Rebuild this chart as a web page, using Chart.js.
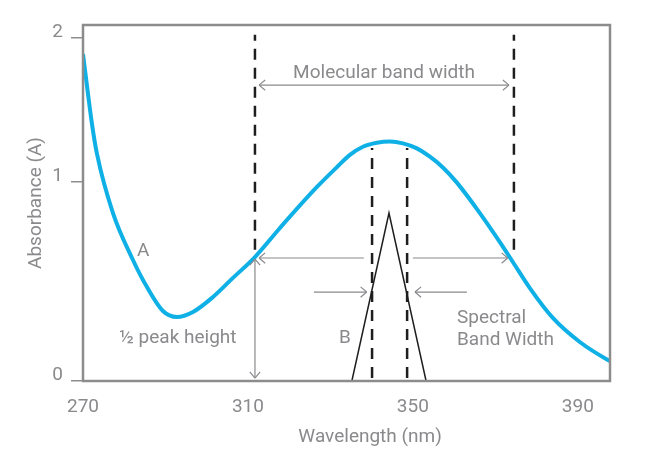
<!DOCTYPE html>
<html><head><meta charset="utf-8">
<script src="https://cdn.jsdelivr.net/npm/chart.js@4/dist/chart.umd.min.js"></script>
<style>html,body{margin:0;padding:0;background:#fff}</style>
</head><body>
<canvas id="c" width="650" height="456"></canvas>
<script>
// Curve A: absorbance spectrum
const curveWavelength = [270.00, 270.97, 272.18, 273.39, 277.27, 282.12, 284.55, 289.39, 292.79, 296.67, 301.52, 306.36, 311.70, 317.76, 326.73, 331.58, 334.73, 337.88, 341.27, 344.42, 347.58, 350.97, 354.12, 357.27, 360.67, 366.24, 371.09, 374.24, 378.36, 383.94, 390.48, 397.27, 397.76];
const curveAbsorbance = [1.643, 1.482, 1.291, 1.141, 0.844, 0.608, 0.508, 0.352, 0.322, 0.347, 0.422, 0.518, 0.623, 0.769, 0.975, 1.075, 1.136, 1.177, 1.197, 1.203, 1.194, 1.169, 1.127, 1.073, 0.997, 0.844, 0.698, 0.598, 0.467, 0.317, 0.196, 0.106, 0.101];
// Curve B: instrument band (triangle)
const bandWavelength = [335.2, 344.2, 353.2];
const bandAbsorbance = [0, 0.844, 0];
// Dashed guide lines
const molecularEdges = [311.7, 374.5];
const molecularRange = [0.66, 1.74];
const spectralEdges = [340.1, 348.6];
const spectralRange = [0.015, 1.171];
// Ticks
const xTickValues = [270, 310, 350, 390];
const yTickValues = [0, 1, 1.724];
const yTickLabels = ['0', '1', '2'];
// Arrows: [x1, y1, x2, y2, headAtStart, headAtEnd]
const arrows = [
  [312.7, 1.487, 373.3, 1.487, true, true],
  [338.1, 0.618, 312.7, 0.618, false, true],
  [350.0, 0.618, 373.0, 0.618, false, true],
  [326.0, 0.447, 338.8, 0.447, false, true],
  [363.1, 0.447, 350.5, 0.447, false, true],
  [311.7, 0.613, 311.7, 0.015, true, true]
];
// Labels
const labelTexts = ['Molecular band width', 'A', '½ peak height', 'B', 'Spectral', 'Band Width'];
const labelX = [343.0, 284.6, 293.0, 333.5, 360.7, 360.7];
const labelY = [1.545, 0.653, 0.216, 0.216, 0.317, 0.206];
const labelAlign = ['center', 'center', 'center', 'center', 'left', 'left'];

const GRAY = '#8a8a8d';
const FONT = 'Roboto';
const FS = 19;

const dashed = (xv, range) => ({
  data: range.map(v => ({x: xv, y: v})),
  borderColor: '#1e1e1e', borderWidth: 2.5, borderDash: [11, 8],
  pointRadius: 0, fill: false, tension: 0
});

const annot = {
  id: 'annot',
  afterDatasetsDraw(chart) {
    const {ctx, scales: {x, y}, chartArea: a} = chart;
    ctx.save();
    ctx.strokeStyle = GRAY; ctx.lineWidth = 1.2;
    const head = (px, py, dx, dy) => {
      const len = Math.hypot(dx, dy), ux = dx / len, uy = dy / len, L = 8, ang = 0.7;
      ctx.beginPath();
      for (const s of [1, -1]) {
        const c = Math.cos(ang), sn = Math.sin(ang) * s;
        const bx = -(ux * c - uy * sn), by = -(uy * c + ux * sn);
        ctx.moveTo(px + bx * L, py + by * L); ctx.lineTo(px, py);
      }
      ctx.stroke();
    };
    arrows.forEach(([x1, y1, x2, y2, h1, h2]) => {
      const X1 = x.getPixelForValue(x1), Y1 = y.getPixelForValue(y1);
      const X2 = x.getPixelForValue(x2), Y2 = y.getPixelForValue(y2);
      ctx.beginPath(); ctx.moveTo(X1, Y1); ctx.lineTo(X2, Y2); ctx.stroke();
      if (h2) head(X2, Y2, X2 - X1, Y2 - Y1);
      if (h1) head(X1, Y1, X1 - X2, Y1 - Y2);
    });
    ctx.fillStyle = GRAY; ctx.font = FS + 'px ' + FONT; ctx.textBaseline = 'middle';
    labelTexts.forEach((t, i) => {
      ctx.textAlign = labelAlign[i];
      ctx.fillText(t, x.getPixelForValue(labelX[i]), y.getPixelForValue(labelY[i]));
    });
    ctx.strokeStyle = '#8c8c8c'; ctx.lineWidth = 2.5;
    ctx.strokeRect(a.left, a.top, a.right - a.left, a.bottom - a.top);
    ctx.restore();
  }
};

new Chart(document.getElementById('c'), {
  type: 'line',
  data: {
    datasets: [
      {data: curveWavelength.map((w, i) => ({x: w, y: curveAbsorbance[i]})),
       borderColor: '#0fb0e6', borderWidth: 4, pointRadius: 0, fill: false,
       cubicInterpolationMode: 'monotone'},
      {data: bandWavelength.map((w, i) => ({x: w, y: bandAbsorbance[i]})),
       borderColor: '#1e1e1e', borderWidth: 1.5, pointRadius: 0, fill: false, tension: 0},
      dashed(molecularEdges[0], molecularRange),
      dashed(molecularEdges[1], molecularRange),
      dashed(spectralEdges[0], spectralRange),
      dashed(spectralEdges[1], spectralRange)
    ]
  },
  options: {
    responsive: false, animation: false,
    layout: {padding: {top: 25, right: 40, left: 0, bottom: 0}},
    plugins: {legend: {display: false}, tooltip: {enabled: false}},
    scales: {
      x: {
        type: 'linear', min: 270, max: 397.8,
        afterBuildTicks: s => { s.ticks = xTickValues.map(v => ({value: v})); },
        afterFit: s => { s.height = 75; },
        ticks: {color: GRAY, font: {family: FONT, size: FS}, padding: 15, callback: v => String(v)},
        grid: {display: false, drawTicks: false},
        border: {display: false},
        title: {display: true, text: '          Wavelength (nm)', color: GRAY, font: {family: FONT, size: FS}, padding: {top: 0, bottom: 7}}
      },
      y: {
        type: 'linear', min: 0, max: 1.789,
        afterBuildTicks: s => { s.ticks = yTickValues.map(v => ({value: v})); },
        afterFit: s => { s.width = 83; },
        ticks: {color: GRAY, font: {family: FONT, size: FS}, padding: 8, labelOffset: -6,
                callback: (v, i) => yTickLabels[i]},
        grid: {drawOnChartArea: false, drawTicks: true, tickLength: 12, color: '#8e8e8e', lineWidth: 1.5},
        border: {display: false},
        title: {display: true, text: 'Absorbance (A)', color: GRAY, font: {family: FONT, size: FS}, padding: {top: 25, bottom: 0}}
      }
    }
  },
  plugins: [annot]
});
</script>
</body></html>
